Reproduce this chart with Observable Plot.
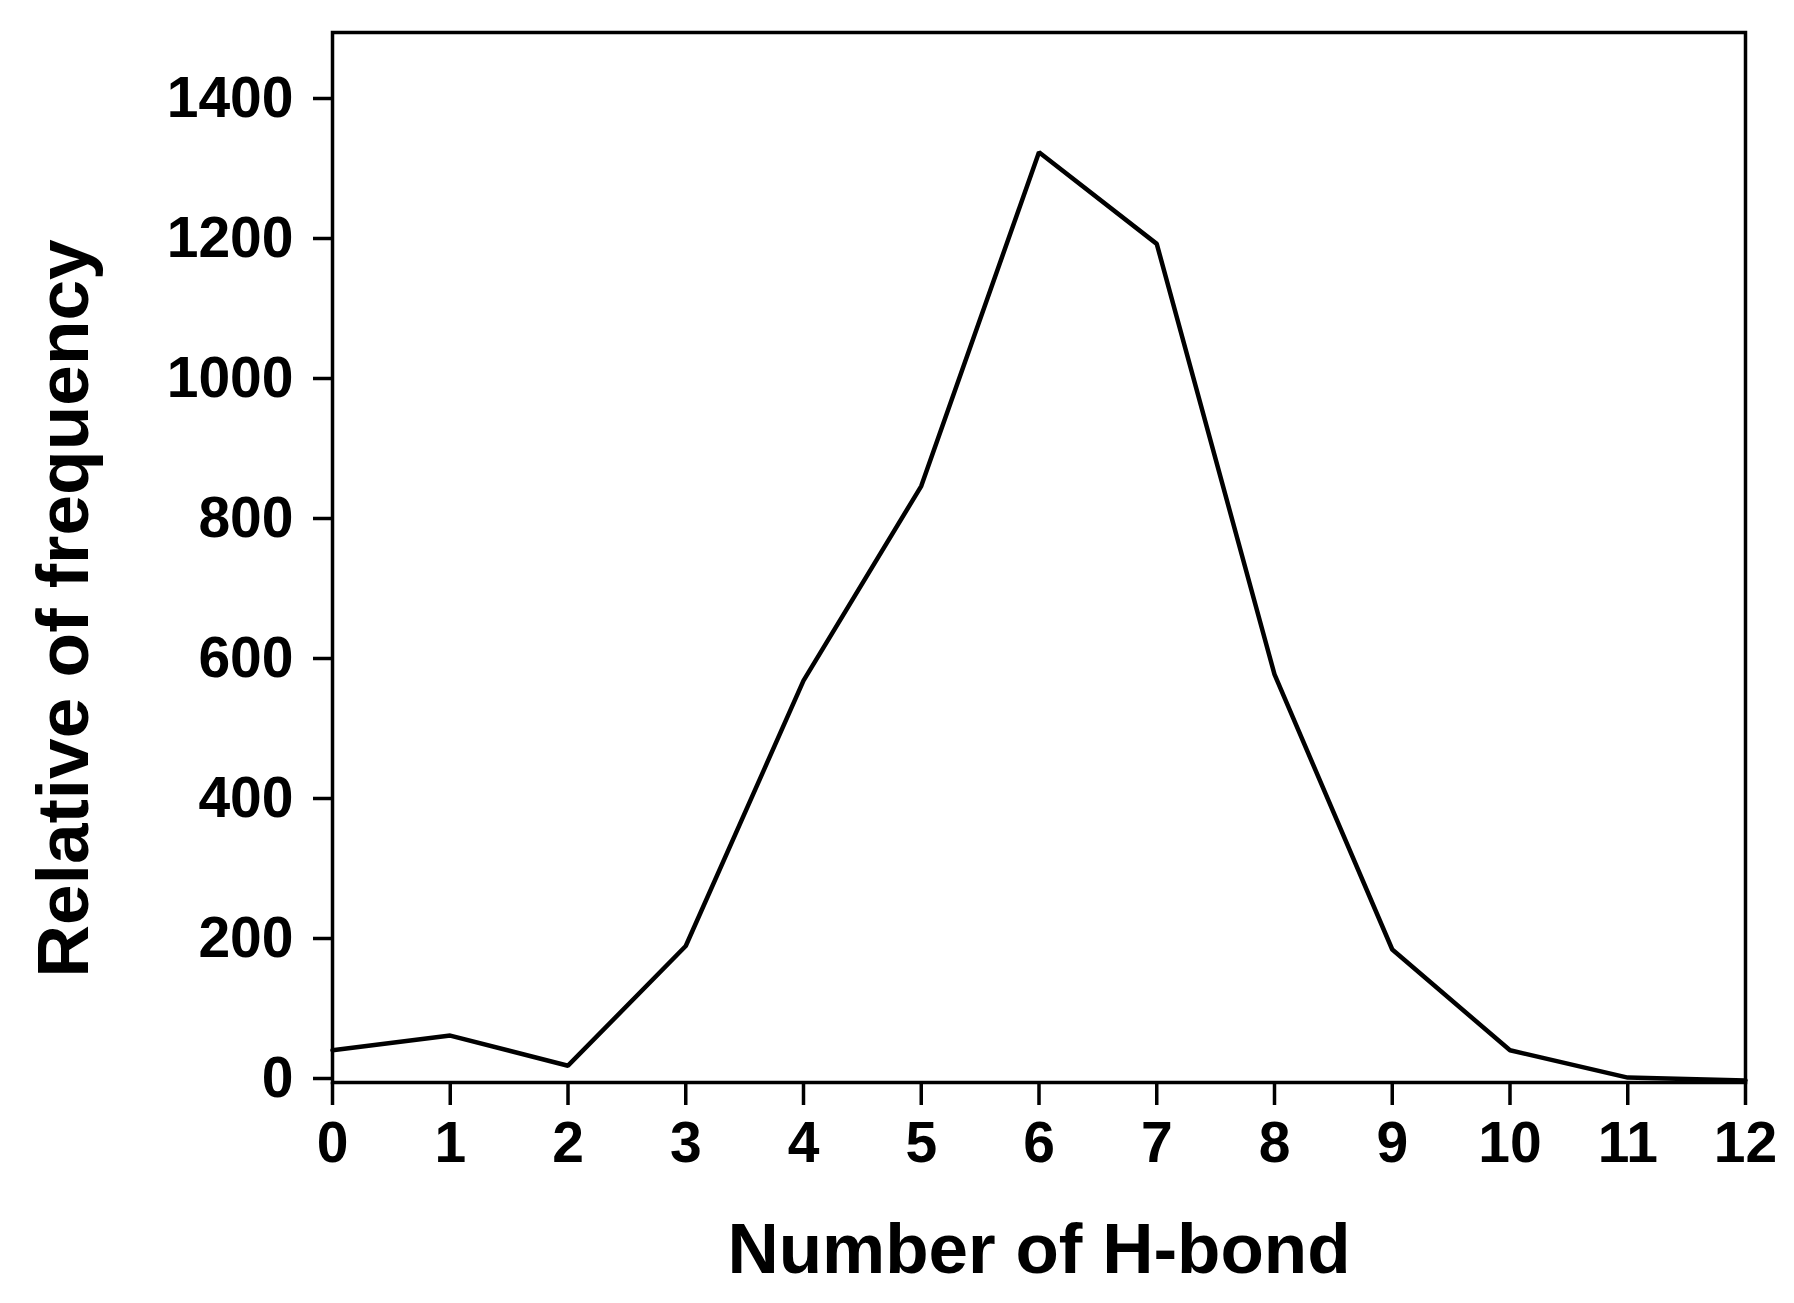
<!DOCTYPE html>
<html>
<head>
<meta charset="utf-8">
<script src="https://cdn.jsdelivr.net/npm/d3@7"></script>
<script src="https://cdn.jsdelivr.net/npm/@observablehq/plot@0.6"></script>
<style>
  html, body { margin: 0; padding: 0; background: #fff; }
  svg { display: block; }
</style>
</head>
<body>
<div id="chart"></div>
<script>
const hbonds = [0, 1, 2, 3, 4, 5, 6, 7, 8, 9, 10, 11, 12];
const frequency = [46, 67, 24, 195, 574, 852, 1329, 1198, 583, 190, 46, 7, 3];
const xTicks = [0, 1, 2, 3, 4, 5, 6, 7, 8, 9, 10, 11, 12];
const yTicks = [0, 200, 400, 600, 800, 1000, 1200, 1400];
const xTitle = "Number of H-bond";
const yTitle = "Relative of frequency";

const data = hbonds.map((h, i) => ({h, f: frequency[i]}));
const font = "'Liberation Sans', Arial, Helvetica, sans-serif";

const chart = Plot.plot({
  width: 1794,
  height: 1303,
  marginLeft: 332,
  marginRight: 49,
  marginTop: 32,
  marginBottom: 221,
  style: {fontFamily: font, fontWeight: "bold", background: "#fff", color: "#000"},
  x: {domain: [0, 12]},
  y: {domain: [0, 1500]},
  marks: [
    Plot.frame({stroke: "#000", strokeWidth: 3.5}),
    Plot.axisX({
      ticks: xTicks, tickFormat: d => String(d), tickSize: 23, tickPadding: 16,
      strokeWidth: 3.5, fontSize: 57, fontWeight: "bold", label: null
    }),
    Plot.axisY({
      ticks: yTicks, tickFormat: d => String(d), tickSize: 19, tickPadding: 20,
      strokeWidth: 3.5, fontSize: 57, fontWeight: "bold", dy: -4, label: null
    }),
    Plot.line(data, {x: "h", y: "f", stroke: "#000", strokeWidth: 4.5, strokeLinejoin: "miter"}),
    Plot.text([xTitle], {
      text: d => d, frameAnchor: "bottom", dy: 168, fontSize: 71, fontWeight: "bold",
      textAnchor: "middle", lineAnchor: "middle", fill: "#000"
    }),
    Plot.text([yTitle], {
      text: d => d, frameAnchor: "left", dx: -268, dy: 51, rotate: -90, fontSize: 73,
      fontWeight: "bold", textAnchor: "middle", lineAnchor: "middle", fill: "#000"
    })
  ]
});
document.getElementById("chart").appendChild(chart);
</script>
</body>
</html>
